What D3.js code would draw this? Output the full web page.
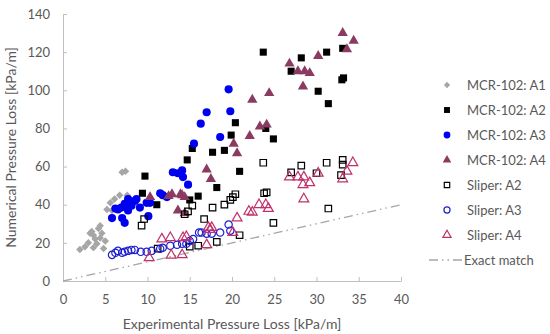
<!DOCTYPE html>
<html>
<head>
<meta charset="utf-8">
<script src="https://cdn.jsdelivr.net/npm/d3@7"></script>
<style>
    body { margin: 0; background: #fff; }
    text { font-family: Lato, "Open Sans", sans-serif; fill: #595959; }
    .axis path, .axis line { stroke: #bfbfbf; }
    .axis text { font-size: 13px; fill: #595959; }
</style>
</head>
<body>
<div id="chart"></div>
<script>
// MCR-102 series
const mcrA1X = [2.0,2.6,3.0,3.2,3.4,3.6,3.6,3.8,4.0,4.2,4.4,4.4,4.6,4.8,5.0,5.2,5.6,5.8,6.1,6.7,7.0,7.4,7.6]
const mcrA1Y = [16.5,18,20,25,26,24,17.5,22,19.5,27.5,22.5,29,25,17,21,37.5,41,37,43,45,57,57.5,45]

const mcrA2X = [9.4,9.7,11.1,14.7,15.0,15.3,16.0,17.7,18.2,19.1,19.9,20.4,20.9,24.0,24.9,23.7,27.0,28.2,30.2,31.4,31.2,33.0,33.2,33.1]
const mcrA2Y = [46,55,40,63.5,42.5,69.5,44.5,67.5,49,68.5,76.5,83,57.5,80,74.5,120,110,117,99.5,93,120,105.5,106.5,122]

const mcrA3X = [5.8,6.2,6.5,6.9,7.0,7.3,7.3,7.7,7.7,8.1,8.5,8.7,9.1,9.9,10.1,10.3,11.5,11.8,12.3,13.0,13.6,14.1,14.2,14.8,15.5,16.3,17.0,18.6,19.6,19.8]
const mcrA3Y = [33,38,37.5,38.5,33,30.5,40.5,37,43,39.5,42,43,38.5,41,34,41,46,45,44,57,56.5,58,54.5,50.5,72,82.5,88.5,75.5,100.5,89]

const mcrA4X = [10.3,12.5,12.9,13.6,13.9,14.1,14.4,14.4,17.0,17.5,20.2,20.6,22.1,23.3,24.1,22.4,24.4,26.8,27.8,28.6,29.2,28.4,30.2,33.1,33.6,34.4]
const mcrA4Y = [44,44.5,45.5,37,45.5,45,44,35.5,58.5,53.5,72,67,76,81,82,95,98.5,114,110,110,109,102,118,130,121.5,126]

// Sliper series
const slpA2X = [9.3,9.6,11.2,14.4,14.8,15.3,15.0,16.0,16.7,17.7,18.2,19.1,19.8,20.1,20.4,20.9,23.7,23.8,24.1,24.9,27.0,28.2,30.0,31.2,31.4,32.9,33.1,33.1]
const slpA2Y = [29,32.5,17,35,36.5,39.5,18,18.5,32.5,38.5,20.5,40,42.5,44,45.5,24,62,46,46.5,30.5,57,60.5,56.5,62,38,55.5,61,63.5]

const slpA3X = [5.8,6.2,6.5,7.0,7.3,7.7,8.1,8.5,9.2,9.9,10.5,11.5,11.8,12.7,13.5,14.1,14.6,15.0,15.4,16.1,16.4,17.0,17.6,18.6,19.6,19.8]
const slpA3Y = [13.7,14.8,15.8,14.8,15.3,15.8,16.3,16.3,15.3,15.3,15.8,16.9,17.4,18.5,19,19.5,19.5,21,22,25.4,25.4,24.8,24.8,25.4,29.6,26.4]

const slpA4X = [10.2,11.7,12.7,12.8,14.1,14.2,14.6,17.0,17.2,17.4,17.6,20.1,20.6,22.0,22.4,23.2,24.0,24.3,26.8,27.8,28.5,28.4,29.2,28.5,30.2,33.1,33.6,34.3]
const slpA4Y = [12.2,22,22.7,13.5,13.7,22.7,23.2,19,28,27,28,25.4,33,36.5,36,40,40,38,54.5,54.5,54.5,50.5,51.5,43,56.5,53.5,57.5,62]

const exactMatch = [0, 40]

const xTicks = [0,5,10,15,20,25,30,35,40]
const yTicks = [0,20,40,60,80,100,120,140]

const seriesNames = ["MCR-102: A1","MCR-102: A2","MCR-102: A3","MCR-102: A4","Sliper: A2","Sliper: A3","Sliper: A4"]

const pairUp = (xs, ys) => xs.map((x, i) => ({ x: x, y: ys[i] }))

// marker look per series
const series = [
    { name: seriesNames[0], data: pairUp(mcrA1X, mcrA1Y), shape: d3.symbolSquare, size: 28, rotate: 45, fill: "#a6a6a6", stroke: "none" },
    { name: seriesNames[1], data: pairUp(mcrA2X, mcrA2Y), shape: d3.symbolSquare, size: 50, rotate: 0, fill: "#000000", stroke: "none" },
    { name: seriesNames[2], data: pairUp(mcrA3X, mcrA3Y), shape: d3.symbolCircle, size: 52, rotate: 0, fill: "#0000f0", stroke: "none" },
    { name: seriesNames[3], data: pairUp(mcrA4X, mcrA4Y), shape: d3.symbolTriangle, size: 46, rotate: 0, fill: "#8b3a62", stroke: "none" },
    { name: seriesNames[4], data: pairUp(slpA2X, slpA2Y), shape: d3.symbolSquare, size: 42, rotate: 0, fill: "none", stroke: "#000000" },
    { name: seriesNames[5], data: pairUp(slpA3X, slpA3Y), shape: d3.symbolCircle, size: 42, rotate: 0, fill: "none", stroke: "#2020d0" },
    { name: seriesNames[6], data: pairUp(slpA4X, slpA4Y), shape: d3.symbolTriangle, size: 42, rotate: 0, fill: "none", stroke: "#c0306a" }
]

const margin = { top: 14, bottom: 53, right: 149, left: 63 }
const width = 550 - margin.left - margin.right
const height = 334 - margin.top - margin.bottom

const root = d3.select("#chart").append("svg")
    .attr("width", 550)
    .attr("height", 334)

const svg = root.append("g")
    .attr("transform", `translate(${margin.left}, ${margin.top})`)

const xScale = d3.scaleLinear().domain([0, 40]).range([0, width])
const yScale = d3.scaleLinear().domain([0, 140]).range([height, 0])

// axes, ticks pointing inward like the original
svg.append("g")
    .attr("class", "axis")
    .attr("transform", `translate(0, ${height})`)
    .call(d3.axisBottom(xScale).tickValues(xTicks).tickSize(-4).tickPadding(14).tickSizeOuter(0))

svg.append("g")
    .attr("class", "axis")
    .call(d3.axisLeft(yScale).tickValues(yTicks).tickSize(-4).tickPadding(13).tickSizeOuter(0))

// axis titles
svg.append("text")
    .attr("x", width / 2)
    .attr("y", height + 48)
    .attr("text-anchor", "middle")
    .style("font-size", "14px")
    .text("Experimental Pressure Loss [kPa/m]")

svg.append("text")
    .attr("transform", `translate(${-47}, ${height / 2}) rotate(-90)`)
    .attr("text-anchor", "middle")
    .style("font-size", "14px")
    .text("Numerical Pressure Loss [kPa/m]")

// exact match line
const line = d3.line().x(d => xScale(d)).y(d => yScale(d))
svg.append("path")
    .datum(exactMatch)
    .attr("d", line)
    .attr("fill", "none")
    .attr("stroke", "#a6a6a6")
    .attr("stroke-width", 1.3)
    .attr("stroke-dasharray", "9,4,1.5,4,1.5,4")

// points
series.forEach(s => {
    const sym = d3.symbol().type(s.shape).size(s.size)
    svg.append("g").selectAll("path").data(s.data)
        .enter()
            .append("path")
                .attr("d", sym)
                .attr("transform", d => `translate(${xScale(d.x)}, ${yScale(d.y)}) rotate(${s.rotate})`)
                .attr("fill", s.fill)
                .attr("stroke", s.stroke)
                .attr("stroke-width", 1.2)
})

// legend
const legend = root.append("g").attr("transform", "translate(447, 85)")
series.forEach((s, i) => {
    const row = legend.append("g").attr("transform", `translate(0, ${i * 25})`)
    row.append("path")
        .attr("d", d3.symbol().type(s.shape).size(s.size * 0.7)())
        .attr("transform", `rotate(${s.rotate})`)
        .attr("fill", s.fill)
        .attr("stroke", s.stroke)
        .attr("stroke-width", 1.2)
    row.append("text")
        .attr("x", 20)
        .attr("y", 4.5)
        .style("font-size", "13px")
        .text(s.name)
})
const lastRow = legend.append("g").attr("transform", `translate(0, ${7 * 25})`)
lastRow.append("line")
    .attr("x1", -18).attr("x2", 16)
    .attr("stroke", "#a6a6a6")
    .attr("stroke-width", 1.3)
    .attr("stroke-dasharray", "9,4,1.5,4,1.5,4")
lastRow.append("text")
    .attr("x", 17)
    .attr("y", 4.5)
    .style("font-size", "13px")
    .text("Exact match")
</script>
</body>
</html>
